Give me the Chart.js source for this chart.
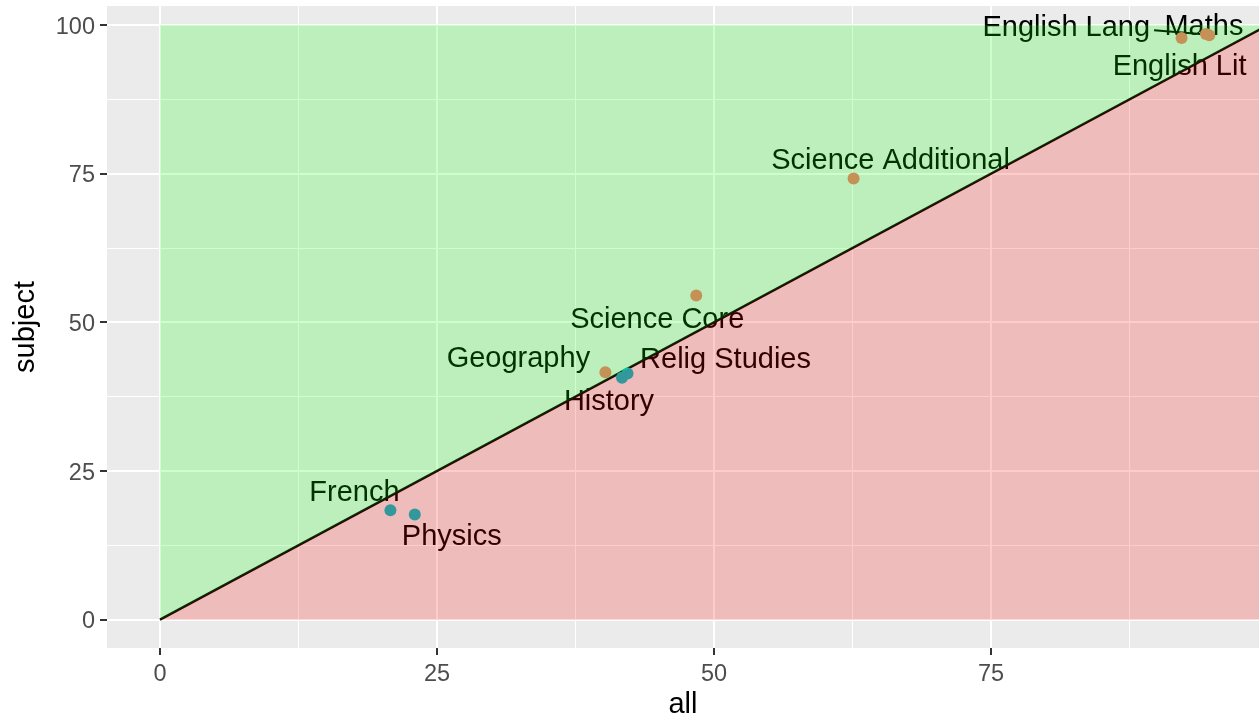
<!DOCTYPE html>
<html lang="en">
<head>
    <meta charset="UTF-8">
    <script src="https://cdn.jsdelivr.net/npm/chart.js"></script>
    <title>subject vs all</title>
    <style>
        body { margin: 0; background: #fff; }
    </style>
</head>
<body>
    <canvas id="chart" width="1259" height="721"></canvas>

<script>
    // values
    let subjects = ['Maths', 'English Lang', 'English Lit', 'Science Additional', 'Science Core',
        'Geography', 'Relig Studies', 'History', 'French', 'Physics'];
    let allPct = [94.4, 94.7, 92.2, 62.6, 48.4, 40.2, 42.2, 41.7, 20.8, 23.0];
    let subjectPct = [98.5, 98.3, 97.8, 74.2, 54.5, 41.6, 41.4, 40.7, 18.4, 17.7];
    let xTicks = [0, 12.5, 25, 37.5, 50, 62.5, 75, 87.5];
    let yTicks = [0, 12.5, 25, 37.5, 50, 62.5, 75, 87.5, 100];

    // shaded regions and the y = x line
    let upperX = [0, 0, 100];
    let upperY = [0, 100, 100];
    let lowerX = [0, 100, 100];
    let lowerY = [0, 100, 0];
    let diagX = [0, 100];
    let diagY = [0, 100];

    // label placement (pixels from the point), like ggrepel put them
    let labelNudge = [[-2, -7], [-143, -7], [-2, 29], [37, -17], [-39, 24],
        [-87, -13], [98, -14], [-13, 24], [-36, -17], [37, 23]];
    let segmentFor = ['English Lang'];

    const FONT = '"Liberation Sans", Arial, sans-serif';

    function pts(xs, ys) {
        return xs.map((x, i) => ({ x: x, y: ys[i] }));
    }

    let points = pts(allPct, subjectPct);
    let pointColors = points.map(p => p.y > p.x ? '#F8766D' : '#00BFC4');

    const panelBg = {
        id: 'panelBg',
        beforeDraw(chart) {
            let a = chart.chartArea;
            let ctx = chart.ctx;
            ctx.save();
            ctx.fillStyle = '#EBEBEB';
            ctx.fillRect(a.left, a.top, a.right - a.left, a.bottom - a.top);
            ctx.restore();
        }
    };

    // text labels go under the shaded regions, so they get tinted like the original
    const pointLabels = {
        id: 'pointLabels',
        beforeDatasetsDraw(chart) {
            let ctx = chart.ctx;
            let xs = chart.scales.x, ys = chart.scales.y;
            ctx.save();
            ctx.font = '29px ' + FONT;
            ctx.fillStyle = '#000';
            ctx.textAlign = 'center';
            ctx.textBaseline = 'middle';
            for (let i = 0; i < subjects.length; i++) {
                let px = xs.getPixelForValue(allPct[i]);
                let py = ys.getPixelForValue(subjectPct[i]);
                let lx = px + labelNudge[i][0];
                let ly = py + labelNudge[i][1];
                ctx.fillText(subjects[i], lx, ly);
                if (segmentFor.includes(subjects[i])) {
                    let w = ctx.measureText(subjects[i]).width;
                    ctx.strokeStyle = '#000';
                    ctx.lineWidth = 2;
                    ctx.beginPath();
                    ctx.moveTo(lx + w / 2 + 4, ly + 2);
                    ctx.lineTo(px - 6, py - 1);
                    ctx.stroke();
                }
            }
            ctx.restore();
        },
        afterDraw(chart) {
            let ctx = chart.ctx;
            let a = chart.chartArea;
            ctx.save();
            ctx.font = '29px ' + FONT;
            ctx.fillStyle = '#000';
            ctx.textAlign = 'center';
            ctx.textBaseline = 'middle';
            ctx.fillText('all', (a.left + a.right) / 2, 705);
            ctx.translate(26, (a.top + a.bottom) / 2);
            ctx.rotate(-Math.PI / 2);
            ctx.fillText('subject', 0, 0);
            ctx.restore();
        }
    };

    function isMajor(v) {
        return v % 25 === 0;
    }

    function axis(min, max, tickList) {
        return {
            type: 'linear',
            min: min,
            max: max,
            afterBuildTicks: function (scale) {
                scale.ticks = tickList.map(v => ({ value: v }));
            },
            border: { display: false },
            grid: {
                color: '#FFFFFF',
                lineWidth: c => isMajor(c.tick.value) ? 2 : 1,
                tickColor: c => isMajor(c.tick.value) ? '#333333' : 'rgba(0,0,0,0)',
                tickWidth: 2,
                tickLength: 7
            },
            ticks: {
                autoSkip: false,
                maxRotation: 0,
                padding: 5,
                color: '#4D4D4D',
                font: { family: FONT, size: 23.5 },
                callback: v => isMajor(v) ? String(v) : ''
            }
        };
    }

    let xAxis = axis(-4.78, 99.19, xTicks);
    xAxis.afterFit = s => {
        s.height = 73;
        s.paddingLeft = 0;
        s.paddingRight = 0;
    };
    let yAxis = axis(-4.76, 103.2, yTicks);
    yAxis.ticks.labelOffset = 2;
    yAxis.afterFit = s => {
        s.width = 107;
        s.paddingTop = 0;
        s.paddingBottom = 0;
    };

    new Chart(document.getElementById('chart').getContext('2d'), {
        type: 'scatter',
        data: {
            datasets: [
                {
                    type: 'line',
                    data: pts(upperX, upperY),
                    backgroundColor: 'rgba(0, 255, 0, 0.2)',
                    borderWidth: 0,
                    pointRadius: 0,
                    fill: 'shape',
                    clip: 0,
                    order: 0
                },
                {
                    type: 'line',
                    data: pts(lowerX, lowerY),
                    backgroundColor: 'rgba(255, 0, 0, 0.2)',
                    borderWidth: 0,
                    pointRadius: 0,
                    fill: 'shape',
                    clip: 0,
                    order: 1
                },
                {
                    data: points,
                    pointBackgroundColor: pointColors,
                    pointBorderWidth: 0,
                    pointRadius: 6,
                    clip: 0,
                    order: 2
                },
                {
                    type: 'line',
                    data: pts(diagX, diagY),
                    borderColor: '#000000',
                    borderWidth: 2.5,
                    pointRadius: 0,
                    fill: false,
                    clip: 0,
                    order: 3
                }
            ]
        },
        options: {
            responsive: false,
            devicePixelRatio: 1,
            animation: false,
            layout: { autoPadding: false, padding: { top: 6, right: 0, left: 0, bottom: 0 } },
            plugins: {
                legend: { display: false },
                tooltip: { enabled: false }
            },
            scales: {
                x: xAxis,
                y: yAxis
            }
        },
        plugins: [panelBg, pointLabels]
    });
</script>
</body>
</html>
